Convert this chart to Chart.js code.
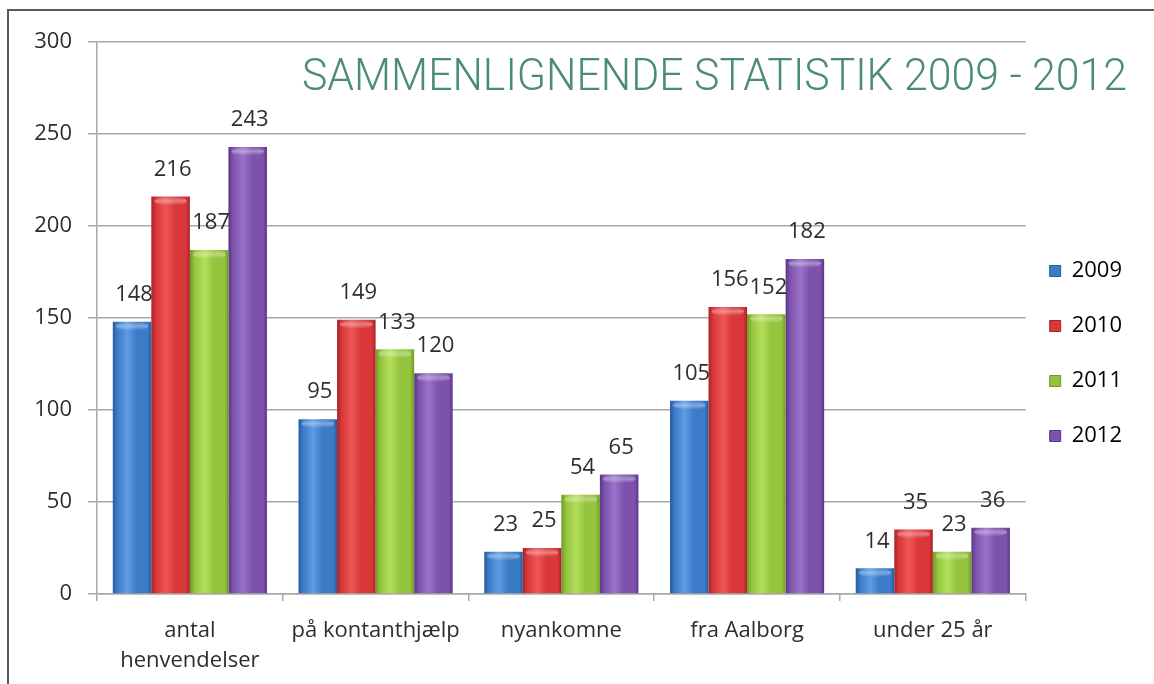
<!DOCTYPE html>
<html>
<head>
<meta charset="utf-8">
<script src="https://cdn.jsdelivr.net/npm/chart.js@4.4.1/dist/chart.umd.min.js"></script>
<style>
  html, body { margin: 0; padding: 0; background: #ffffff; }
  #wrap { position: relative; width: 1154px; height: 684px; overflow: hidden; background: #fff; }
  #frame { position: absolute; left: 7px; top: 9px; width: 1200px; height: 720px;
           border-left: 2px solid #5a5a5a; border-top: 2px solid #5a5a5a; pointer-events: none; }
  canvas { position: absolute; left: 0; top: 0; }
</style>
</head>
<body>
<div id="wrap">
  <canvas id="c" width="1154" height="684"></canvas>
  <div id="frame"></div>
</div>
<script>
// ---- data ----
const chartTitle = "SAMMENLIGNENDE STATISTIK 2009 - 2012";
const categories = [["antal", "henvendelser"], "på kontanthjælp", "nyankomne", "fra Aalborg", "under 25 år"];
const seriesNames = ["2009", "2010", "2011", "2012"];
const values2009 = [148, 95, 23, 105, 14];
const values2010 = [216, 149, 25, 156, 35];
const values2011 = [187, 133, 54, 152, 23];
const values2012 = [243, 120, 65, 182, 36];
const yMin = 0, yMax = 300, yStep = 50;

// ---- styles ----
const palette = [
  { base: "#3b7bc8", light: "#5d9de3", dark: "#285c9c" },
  { base: "#d9373a", light: "#ee5656", dark: "#a82326" },
  { base: "#94c43c", light: "#b3df5c", dark: "#6f982a" },
  { base: "#7d52ac", light: "#9a72c8", dark: "#5a3785" }
];
const CAT_PCT = 0.83;
const textColor = "#2e2e2e";
const gridColor = "#a8a8a8";
const labelFont = "Open Sans";

function barGradient(context) {
  const p = palette[context.datasetIndex];
  const chart = context.chart;
  const xs = chart.scales && chart.scales.x;
  if (context.type !== "data" || !xs || !(xs.width > 0)) return p.base;
  const catW = xs.width / categories.length;
  const center = xs.getPixelForValue(context.dataIndex);
  if (!isFinite(center)) return p.base;
  const groupW = catW * CAT_PCT;
  const barW = groupW / seriesNames.length;
  const left = center - groupW / 2 + context.datasetIndex * barW;
  const g = chart.ctx.createLinearGradient(left, 0, left + barW, 0);
  g.addColorStop(0, p.dark);
  g.addColorStop(0.12, p.base);
  g.addColorStop(0.38, p.light);
  g.addColorStop(0.62, p.base);
  g.addColorStop(0.9, p.base);
  g.addColorStop(1, p.dark);
  return g;
}

const allValues = [values2009, values2010, values2011, values2012];
const datasets = seriesNames.map((name, i) => ({
  label: name,
  data: allValues[i],
  backgroundColor: barGradient,
  borderWidth: 0,
  categoryPercentage: CAT_PCT,
  barPercentage: 1.0
}));

const titlePlugin = {
  id: "bigTitle",
  afterDraw(chart) {
    const ctx = chart.ctx;
    ctx.save();
    ctx.font = "300 45px Roboto";
    ctx.fillStyle = "#4b8b7c";
    ctx.textBaseline = "alphabetic";
    ctx.textAlign = "left";
    const w = ctx.measureText(chartTitle).width;
    const left = 302, right = 1127, base = 90;
    ctx.translate(left, base);
    ctx.scale((right - left) / w, 1);
    ctx.fillText(chartTitle, 0, 0);
    ctx.restore();
  }
};

const barDecor = {
  id: "barDecor",
  afterDatasetsDraw(chart) {
    const ctx = chart.ctx;
    ctx.save();
    chart.data.datasets.forEach((ds, di) => {
      const meta = chart.getDatasetMeta(di);
      meta.data.forEach((bar) => {
        const w = bar.width, x = bar.x, y = bar.y;
        const h = Math.min(9, Math.abs(bar.base - y));
        const g = ctx.createLinearGradient(0, y, 0, y + h);
        g.addColorStop(0, "rgba(255,255,255,0.05)");
        g.addColorStop(0.5, "rgba(255,255,255,0.35)");
        g.addColorStop(1, "rgba(255,255,255,0)");
        ctx.fillStyle = g;
        ctx.beginPath();
        ctx.ellipse(x, y + h / 2, w / 2 - 3, h / 2, 0, 0, Math.PI * 2);
        ctx.fill();
      });
    });
    ctx.font = "22px '" + labelFont + "'";
    ctx.fillStyle = textColor;
    ctx.textAlign = "center";
    ctx.textBaseline = "middle";
    chart.data.datasets.forEach((ds, di) => {
      const meta = chart.getDatasetMeta(di);
      meta.data.forEach((bar, i) => {
        ctx.fillText(String(ds.data[i]), bar.x + 2, bar.y - 27);
      });
    });
    ctx.restore();
  }
};

new Chart(document.getElementById("c"), {
  type: "bar",
  data: { labels: categories, datasets: datasets },
  options: {
    responsive: false,
    animation: false,
    devicePixelRatio: 1,
    layout: { padding: { left: 10, top: 42, right: 22, bottom: 10 } },
    plugins: {
      title: { display: false },
      tooltip: { enabled: false },
      legend: {
        display: true,
        position: "right",
        align: "center",
        labels: {
          boxWidth: 11,
          boxHeight: 11,
          padding: 24,
          color: textColor,
          font: { family: labelFont, size: 22, lineHeight: 31 / 22 },
          generateLabels(chart) {
            return chart.data.datasets.map((ds, i) => ({
              text: [ds.label],
              fillStyle: palette[i].base,
              strokeStyle: palette[i].dark,
              lineWidth: 1,
              hidden: false,
              datasetIndex: i
            }));
          }
        }
      }
    },
    scales: {
      x: {
        grid: { display: true, drawOnChartArea: false, drawTicks: true, tickLength: 7, color: gridColor, lineWidth: 1.5, offset: true },
        border: { display: true, color: gridColor, width: 1.5 },
        ticks: { color: textColor, font: { family: labelFont, size: 22, lineHeight: 30 / 22 }, padding: 15, maxRotation: 0, autoSkip: false },
        afterFit(scale) { scale.height = 80; }
      },
      y: {
        min: yMin, max: yMax,
        grid: { color: gridColor, lineWidth: 1.5, tickLength: 9, drawTicks: true },
        border: { display: true, color: gridColor, width: 1.5 },
        ticks: { stepSize: yStep, color: textColor, font: { family: labelFont, size: 22 }, padding: 16 },
        afterFit(scale) { scale.width = 87; }
      }
    }
  },
  plugins: [titlePlugin, barDecor]
});
</script>
</body>
</html>
